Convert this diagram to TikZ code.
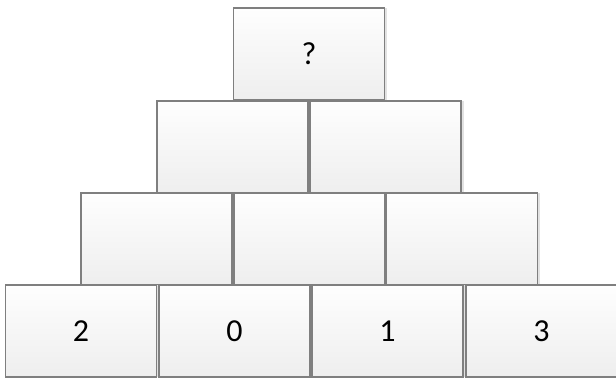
\documentclass[tikz,border=0pt]{standalone}
\usepackage{fontspec}
\setmainfont{Carlito}
\usetikzlibrary{shadows}
\definecolor{edge}{HTML}{7F7F7F}
\definecolor{fillbot}{HTML}{EEEEEE}
\definecolor{filltop}{HTML}{FEFEFE}
\definecolor{shade}{HTML}{E2E2E2}
\newcommand{\cellfont}{\fontsize{32pt}{36pt}\selectfont}
\begin{document}
\begin{tikzpicture}[x=1pt,y=-1pt,
  cell/.style={draw=edge, line width=1.4pt, top color=filltop, bottom color=fillbot,
    minimum width=151pt, minimum height=92pt, inner sep=0pt, outer sep=0pt,
    text=black,
    drop shadow={shadow xshift=2.5pt, shadow yshift=0pt, fill=shade, opacity=1}}]
\useasboundingbox (0,0) rectangle (616,378);
% top
\node[cell] (t) at (309,54) {\cellfont ?};
% row 2
\node[cell] (r2a) at (232.5,147) {};
\node[cell] (r2b) at (385.5,147) {};
% row 3
\node[cell] (r3a) at (156.5,239) {};
\node[cell] (r3b) at (309.5,239) {};
\node[cell] (r3c) at (462,239) {};
% row 4
\node[cell] (r4a) at (81,331) {\cellfont 2};
\node[cell] (r4b) at (234.5,331) {\cellfont 0};
\node[cell] (r4c) at (387.5,331) {\cellfont 1};
\node[cell] (r4d) at (541.5,331) {\cellfont 3};
\end{tikzpicture}
\end{document}
